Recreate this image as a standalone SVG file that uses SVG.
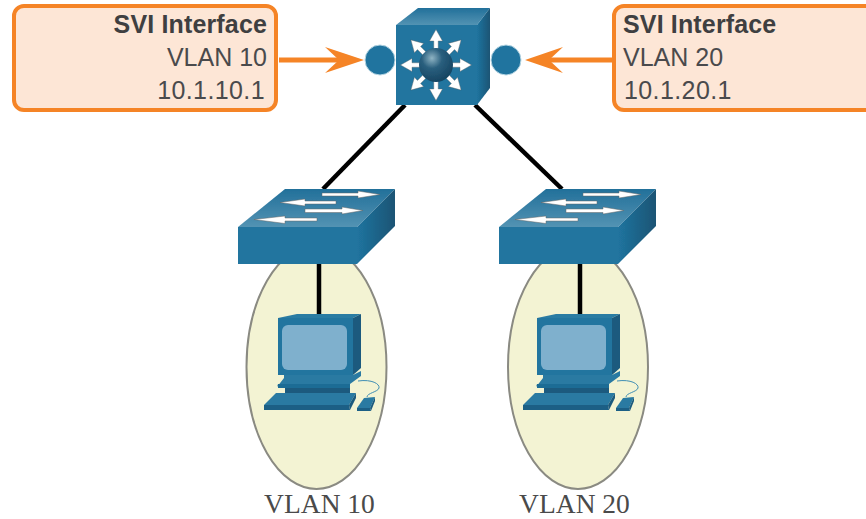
<svg xmlns="http://www.w3.org/2000/svg" xmlns:xlink="http://www.w3.org/1999/xlink" width="866" height="519" viewBox="0 0 866 519">
<style>
.box{fill:#fde6d6;stroke:#f58426;stroke-width:4}
.t{font-family:"Liberation Sans",Arial,sans-serif;font-size:25px;fill:#4a4a4c}
.n{letter-spacing:.4px}
.b{font-weight:700;fill:#3f3f41;letter-spacing:.15px}
.cap{font-family:"Liberation Serif","Times New Roman",serif;font-size:27.500px;fill:#4a4a4a;text-anchor:middle}
.or{stroke:#f58426;stroke-width:5;fill:none}
.blk{stroke:#000;stroke-width:4.500;fill:none}
.ell{fill:#f3f3d3;stroke:#8a8a82;stroke-width:2}
.port{fill:#20749f;stroke:#b5d5e3;stroke-width:1}
.arr{fill:#fff;stroke:#666;stroke-width:.4}
.soft{filter:url(#soft)}
</style>
<defs>
<filter id="soft" x="-5%" y="-5%" width="110%" height="110%"><feGaussianBlur stdDeviation=".5"/></filter>
<linearGradient id="top" x1="0" y1="0" x2="0" y2="1"><stop offset="0" stop-color="#22709a"/><stop offset="1" stop-color="#5393b3"/></linearGradient>
<linearGradient id="side" x1="0" y1="0" x2="1" y2="0"><stop offset="0" stop-color="#20749f"/><stop offset="1" stop-color="#1b5474"/></linearGradient>
<radialGradient id="ball" cx=".38" cy=".3" r=".75"><stop offset="0" stop-color="#8fb4c4"/><stop offset=".4" stop-color="#2a5f7e"/><stop offset="1" stop-color="#14425f"/></radialGradient>
<path id="ray" d="M0-35.500 L6.500-24 L2.200-24 L2.200-14 L-2.200-14 L-2.200-24 L-6.500-24Z" class="arr"/>
<g id="sw">
<path d="M238 227 L285 189 H395 L357 227Z" fill="url(#top)"/>
<path d="M357 227 L395 189 V226 L357 264Z" fill="url(#side)"/>
<rect x="238" y="227" width="119" height="37" fill="#20749f"/>
<path d="M322 193 H358 V191 L380 194.500 L358 198 V196 H322Z M305 201 H336 V204 H305 V206 L280 202.500 L305 199Z M305 209 H342 V207 L363 210.500 L342 214 V212.500 H305Z M285 218 H317 V221 H285 V223.500 L254 219.500 L285 216Z" fill="#fff" stroke="#666" stroke-width=".5"/>
</g>
<g id="pc">
<path d="M278 318 L297 314 H361 L353 318Z" fill="#2b7ba3"/>
<path d="M353 318 L361 314 V368 L353 375Z" fill="#1b5a7e"/>
<rect x="278" y="318" width="75" height="57" fill="#20749f"/>
<rect x="282" y="325" width="65" height="45" rx="6" fill="#7fb0cd"/>
<path d="M284 375 H353 L361 371 V376 L350 384 H278 L277 387 L284 378Z" fill="#2a7aa2"/>
<path d="M278 384 H350 V388 H278Z" fill="#1f6c95"/>
<path d="M285 388 H350 V393 H285Z" fill="#1b5a7e"/>
<path d="M276 393 H356 L349 405 H264Z" fill="#2a7aa2"/>
<path d="M264 405 H349 L350 410 H264Z" fill="#1b5f85"/>
<path d="M349 405 L356 393 V398 L350 410Z" fill="#1b5a7e"/>
<path d="M364 398 L375 397 L370 408 H357Z" fill="#2a7aa2"/>
<path d="M357 408 H370 L371 411 H357Z" fill="#1b5f85"/>
<path d="M370 408 L375 397 L375 401 L371 411Z" fill="#1b5a7e"/>
<path d="M358 381 C372 379 380 384 379 388 C378 392 367 393 367 397" fill="none" stroke="#3d8cb3" stroke-width="1"/>
</g>
</defs>

<g id="vlan10-zone"><ellipse class="ell soft" cx="316.500" cy="367" rx="70" ry="122"/></g>
<g id="vlan20-zone"><ellipse class="ell soft" cx="578" cy="367" rx="70" ry="122"/></g>

<g id="connectors">
<path class="blk" d="M405 105 L323 189"/>
<path class="blk" d="M475 105 L562 189"/>
<path class="blk" d="M319 264 V314"/>
<path class="blk" d="M580 264 V314"/>
<path class="or" d="M279 60 H345"/>
<path d="M364 60 L325 47 L339 60 L325 73Z" fill="#f58426"/>
<path class="or" d="M545 60 H612"/>
<path d="M525 60 L563 47 L549 60 L563 73Z" fill="#f58426"/>
</g>

<g id="svi-left">
<rect class="box" x="14" y="6" width="262" height="104" rx="10"/>
<text class="t b" x="267" y="33" text-anchor="end">SVI Interface</text>
<text class="t" x="267" y="66" text-anchor="end">VLAN 10</text>
<text class="t n" x="265" y="99" text-anchor="end">10.1.10.1</text>
</g>
<g id="svi-right">
<rect class="box" x="614" y="6" width="262" height="104" rx="10"/>
<text class="t b" x="623" y="33">SVI Interface</text>
<text class="t" x="623" y="66">VLAN 20</text>
<text class="t n" x="624" y="99">10.1.20.1</text>
</g>

<g id="port-left"><circle class="port" cx="380" cy="60" r="15"/></g>
<g id="port-right"><circle class="port" cx="506" cy="60" r="15"/></g>

<g id="multilayer-switch" class="soft">
<path d="M396 25 L418 8 H490 L477 25Z" fill="url(#top)"/>
<path d="M477 25 L490 8 V88 L477 105Z" fill="url(#side)"/>
<rect x="396" y="25" width="81" height="80" fill="#20749f"/>
<g transform="translate(436 65)">
<use xlink:href="#ray" href="#ray"/>
<use xlink:href="#ray" href="#ray" transform="rotate(45)"/>
<use xlink:href="#ray" href="#ray" transform="rotate(90)"/>
<use xlink:href="#ray" href="#ray" transform="rotate(135)"/>
<use xlink:href="#ray" href="#ray" transform="rotate(180)"/>
<use xlink:href="#ray" href="#ray" transform="rotate(225)"/>
<use xlink:href="#ray" href="#ray" transform="rotate(270)"/>
<use xlink:href="#ray" href="#ray" transform="rotate(315)"/>
<circle r="17" fill="url(#ball)"/>
</g>
</g>

<g id="switch-left" class="soft"><use xlink:href="#sw" href="#sw"/></g>
<g id="switch-right" class="soft"><use xlink:href="#sw" href="#sw" x="261"/></g>
<g id="pc-left" class="soft"><use xlink:href="#pc" href="#pc"/></g>
<g id="pc-right" class="soft"><use xlink:href="#pc" href="#pc" x="259"/></g>

<text class="cap" x="319.500" y="513">VLAN 10</text>
<text class="cap" x="574.500" y="513">VLAN 20</text>
</svg>
